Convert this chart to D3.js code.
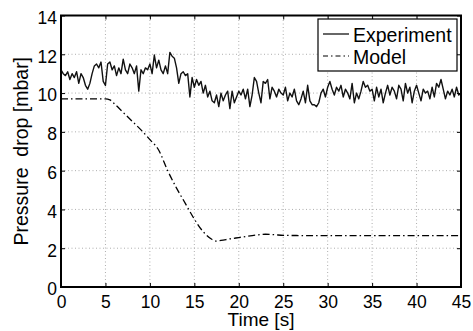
<!DOCTYPE html>
<html>
<head>
<meta charset="utf-8">
<script src="https://cdn.jsdelivr.net/npm/d3@7"></script>
<style>
  body { margin: 0; background: #fff; }
  text { font-family: "Liberation Sans", Arial, sans-serif; fill: #000; }
</style>
</head>
<body>
<div id="chart"></div>
<script>
var width = 473, height = 331;
var margin = {top: 15.5, right: 12, bottom: 44, left: 61};

// experiment sampled every 0.25 s
var expStep = 0.25;
var expValues = [
  11.2, 11.0, 10.9, 11.1,  10.7, 11.0, 10.8, 11.1,  10.5, 11.0, 10.8, 10.4,
  10.2, 10.5, 11.0, 11.4,  11.5, 11.3, 11.6, 10.6,  10.4, 11.5, 11.6, 11.2,
  11.4, 10.9, 11.3, 11.0,  11.75, 11.2, 11.0, 11.5, 11.3, 11.0, 11.4, 10.1,
  11.2, 11.0, 11.3, 11.2,  11.5, 11.0, 11.96, 11.3, 11.7, 11.2, 11.0, 11.4,
  11.0, 12.1, 11.9, 11.8,  11.3, 10.5, 11.0, 11.1,  10.9, 11.0, 9.8, 10.8,
  10.3, 10.7, 10.4, 10.6,  10.0, 10.4, 9.8, 10.1,   9.6, 9.5, 9.9, 9.3,
  10.0, 9.6, 9.9, 10.1,    9.2, 10.1, 9.5, 9.8,     10.1, 9.9, 10.2, 9.7,
  10.2, 9.3, 9.9, 10.8,    10.6, 10.0, 9.5, 10.6,   10.5, 10.7, 9.7, 10.3,
  10.1, 9.8, 10.2, 10.0,   9.9, 10.3, 9.6, 10.0,    9.8, 10.2, 9.6, 9.4,
  9.7, 10.1, 9.5, 10.4,    9.6, 9.4, 9.4, 9.3,      9.5, 10.0, 10.2, 9.8,
  10.3, 10.6, 10.2, 9.9,   10.3, 10.1, 10.4, 9.8,   10.2, 10.0, 9.7, 10.5,
  9.5, 10.0, 9.7, 10.1,    10.6, 10.3, 10.4, 10.1,  10.2, 9.6, 10.3, 9.8,
  10.2, 9.5, 10.0, 10.4,   9.9, 10.3, 10.1, 9.7,    10.4, 10.2, 9.6, 10.5,
  10.0, 10.3, 9.5, 10.1,   10.4, 10.0, 9.6, 10.2,   10.0, 10.1, 9.7, 10.3,
  9.8, 10.5, 10.3, 10.7,   10.2, 9.7, 10.1, 9.9,    10.2, 9.8, 10.3, 9.9,
  10.0
];

var modelTime = [0, 5, 5.5, 6, 7, 8, 9, 10, 11, 12, 13, 14, 15, 16, 17, 17.5, 18, 19, 20, 21, 22, 23, 24, 25, 30, 35, 40, 45];
var modelValues = [9.7, 9.7, 9.65, 9.45, 9.0, 8.55, 8.1, 7.6, 7.05, 6.0, 5.1, 4.3, 3.5, 2.85, 2.45, 2.37, 2.4, 2.48, 2.55, 2.62, 2.68, 2.72, 2.7, 2.66, 2.65, 2.65, 2.65, 2.65];

var xTicks = [0, 5, 10, 15, 20, 25, 30, 35, 40, 45];
var yTicks = [0, 2, 4, 6, 8, 10, 12, 14];

var svg = d3.select("#chart").append("svg")
    .attr("width", width)
    .attr("height", height);

var x = d3.scaleLinear().domain([0, 45]).range([margin.left, width - margin.right]);
var y = d3.scaleLinear().domain([0, 14]).range([height - margin.bottom, margin.top]);

// grid
svg.append("g").selectAll("line.gx")
    .data(xTicks.slice(1, -1))
    .enter().append("line")
    .attr("x1", function(d) { return x(d); })
    .attr("x2", function(d) { return x(d); })
    .attr("y1", y(0)).attr("y2", y(14))
    .attr("stroke", "#999").attr("stroke-width", 0.8)
    .attr("stroke-dasharray", "1,2.5");
svg.append("g").selectAll("line.gy")
    .data(yTicks.slice(1, -1))
    .enter().append("line")
    .attr("y1", function(d) { return y(d); })
    .attr("y2", function(d) { return y(d); })
    .attr("x1", x(0)).attr("x2", x(45))
    .attr("stroke", "#999").attr("stroke-width", 0.8)
    .attr("stroke-dasharray", "1,2.5");

// data lines
var expData = expValues.map(function(v, i) { return [i * expStep, v]; });
var modelData = modelTime.map(function(t, i) { return [t, modelValues[i]]; });

var line = d3.line()
    .x(function(d) { return x(d[0]); })
    .y(function(d) { return y(d[1]); });

svg.append("path")
    .datum(modelData)
    .attr("d", line.curve(d3.curveMonotoneX))
    .attr("fill", "none")
    .attr("stroke", "#000")
    .attr("stroke-width", 1.3)
    .attr("stroke-dasharray", "7,3,1.5,3");

svg.append("path")
    .datum(expData)
    .attr("d", line.curve(d3.curveLinear))
    .attr("fill", "none")
    .attr("stroke", "#111")
    .attr("stroke-width", 1.4)
    .attr("stroke-linejoin", "round");

// axes (MATLAB style: inward ticks on all sides)
var tickLen = 4;
var axBottom = svg.append("g").attr("transform", "translate(0," + y(0) + ")")
    .call(d3.axisBottom(x).tickValues(xTicks).tickSizeInner(-tickLen).tickSizeOuter(0).tickPadding(9));
var axTop = svg.append("g").attr("transform", "translate(0," + y(14) + ")")
    .call(d3.axisTop(x).tickValues(xTicks).tickSizeInner(-tickLen).tickSizeOuter(0).tickFormat(""));
var axLeft = svg.append("g").attr("transform", "translate(" + x(0) + ",0)")
    .call(d3.axisLeft(y).tickValues(yTicks).tickSizeInner(-tickLen).tickSizeOuter(0).tickPadding(4));
var axRight = svg.append("g").attr("transform", "translate(" + x(45) + ",0)")
    .call(d3.axisRight(y).tickValues(yTicks).tickSizeInner(-tickLen).tickSizeOuter(0).tickFormat(""));

[axBottom, axTop, axLeft, axRight].forEach(function(a) {
    a.select(".domain").remove();
    a.selectAll(".tick line").attr("stroke", "#000").attr("stroke-width", 1);
    a.selectAll("text").attr("font-size", 17.5).attr("font-family", "Liberation Sans, Arial, sans-serif").attr("fill", "#000");
});
axBottom.selectAll("text").attr("dy", "0.71em");
axLeft.selectAll("text").attr("dy", "0.45em");

svg.append("rect")
    .attr("x", x(0)).attr("y", y(14))
    .attr("width", x(45) - x(0)).attr("height", y(0) - y(14))
    .attr("fill", "none").attr("stroke", "#000").attr("stroke-width", 2);

// axis labels
svg.append("text")
    .attr("x", (x(0) + x(45)) / 2)
    .attr("y", 325.5)
    .attr("text-anchor", "middle")
    .attr("font-size", 19)
    .text("Time [s]");

svg.append("text")
    .attr("transform", "translate(28," + ((y(0) + y(14)) / 2) + ") rotate(-90)")
    .attr("text-anchor", "middle")
    .attr("font-size", 19.5)
    .style("white-space", "pre")
    .text("Pressure  drop [mbar]");

// legend
var legendItems = [
    {name: "Experiment", dash: null},
    {name: "Model", dash: "5,3,1.5,3"}
];
var lg = svg.append("g").attr("transform", "translate(318,19)");
lg.append("rect")
    .attr("width", 139).attr("height", 52)
    .attr("fill", "#fff").attr("stroke", "#000").attr("stroke-width", 1.2);
var li = lg.selectAll("g.item").data(legendItems).enter().append("g")
    .attr("transform", function(d, i) { return "translate(0," + (15 + i * 22) + ")"; });
li.append("line")
    .attr("x1", 5).attr("x2", 31).attr("y1", 0).attr("y2", 0)
    .attr("stroke", "#000").attr("stroke-width", 1.2)
    .attr("stroke-dasharray", function(d) { return d.dash; });
li.append("text")
    .attr("x", 35).attr("y", 7.5)
    .attr("font-size", 19.5)
    .text(function(d) { return d.name; });
</script>
</body>
</html>
